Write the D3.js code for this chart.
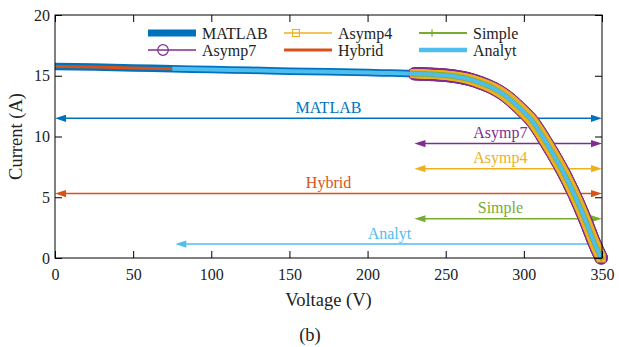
<!DOCTYPE html>
<html>
<head>
<meta charset="utf-8">
<script src="https://cdn.jsdelivr.net/npm/d3@7"></script>
<style>
  body { margin: 0; background: #fff; }
  svg text { font-family: 'Liberation Serif', 'Times New Roman', serif; }
</style>
</head>
<body>
<svg id="chart" width="619" height="347"></svg>
<script>
// I-V curve (reference MATLAB curve, all methods overlap it)
const voltage = [0, 25, 50, 75, 100, 125, 150, 175, 200, 215, 230, 240, 250, 260, 265, 270, 275,
  280, 285, 290, 295, 300, 305, 310, 315, 320, 325, 330, 335, 340, 345, 349.5]
const current = [15.77, 15.71, 15.64, 15.58, 15.51, 15.45, 15.38, 15.32, 15.26, 15.22, 15.17, 15.12,
  15.04, 14.86, 14.72, 14.52, 14.28, 14.0, 13.64, 13.18, 12.62, 12.0, 11.33, 10.4, 9.37, 8.28,
  7.13, 5.85, 4.45, 2.92, 1.28, 0]

// which part of the curve each method covers (V)
const methods = ['MATLAB', 'Asymp7', 'Asymp4', 'Simple', 'Hybrid', 'Analyt']
const curveFrom = [0, 230, 230, 230, 0, 75]
const curveTo = [349.5, 349.5, 349.5, 349.5, 75, 349.5]

// range arrows
const arrowNames = ['MATLAB', 'Asymp7', 'Asymp4', 'Hybrid', 'Simple', 'Analyt']
const arrowFrom = [0, 230, 230, 0, 230, 77]
const arrowTo = [350, 350, 350, 350, 350, 350]
const arrowLevel = [11.5, 9.42, 7.35, 5.3, 3.23, 1.15]
const arrowLabelAt = [175, 285, 285, 175, 285, 214]

const xTicks = [0, 50, 100, 150, 200, 250, 300, 350]
const yTicks = [0, 5, 10, 15, 20]

const colors = {
  MATLAB: '#0072BD', Asymp7: '#7E2F8E', Asymp4: '#EDB120',
  Hybrid: '#D95319', Simple: '#77AC30', Analyt: '#4DBEEE'
}

const box = {left: 55, right: 602, top: 15, bottom: 258}
const tick = 7

const svg = d3.select('#chart')
const x = d3.scaleLinear().domain([0, 350]).range([box.left, box.right])
const y = d3.scaleLinear().domain([0, 20]).range([box.bottom, box.top])

const points = voltage.map((v, i) => ({v, i: current[i]}))
const line = d3.line().x(d => x(d.v)).y(d => y(d.i)).curve(d3.curveMonotoneX)

function drawAxes () {
  const g = svg.append('g').attr('class', 'axes')
  g.append('g').attr('transform', `translate(0,${box.bottom})`)
    .call(d3.axisBottom(x).tickValues(xTicks).tickSize(-tick).tickSizeOuter(0).tickPadding(11))
  g.append('g').attr('transform', `translate(${box.left},0)`)
    .call(d3.axisLeft(y).tickValues(yTicks).tickSize(-tick).tickSizeOuter(0).tickPadding(5))
  g.append('g').attr('transform', `translate(0,${box.top})`)
    .call(d3.axisTop(x).tickValues(xTicks).tickSize(-tick).tickSizeOuter(0).tickFormat(''))
  g.append('g').attr('transform', `translate(${box.right},0)`)
    .call(d3.axisRight(y).tickValues(yTicks).tickSize(-tick).tickSizeOuter(0).tickFormat(''))
  g.selectAll('.domain').remove()
  g.selectAll('.tick line').attr('stroke', '#000').attr('stroke-width', 1)
  g.selectAll('text').attr('font-size', 16).attr('fill', '#222')
    .style('font-family', "'Liberation Serif', serif")
  g.append('rect')
    .attr('x', box.left).attr('y', box.top)
    .attr('width', box.right - box.left).attr('height', box.bottom - box.top)
    .attr('fill', 'none').attr('stroke', '#000').attr('stroke-width', 1)

  svg.append('text').attr('x', (box.left + box.right) / 2).attr('y', 306)
    .attr('text-anchor', 'middle').attr('font-size', 18.5).attr('fill', '#222')
    .text('Voltage (V)')
  svg.append('text')
    .attr('transform', `translate(22,${(box.top + box.bottom) / 2}) rotate(-90)`)
    .attr('text-anchor', 'middle').attr('font-size', 18.5).attr('fill', '#222')
    .text('Current (A)')
  svg.append('text').attr('x', 310).attr('y', 341)
    .attr('text-anchor', 'middle').attr('font-size', 18.5).attr('fill', '#222')
    .text('(b)')
}

function arrowHead (x0, y0, dir) {
  const len = 11, half = 3.6
  return `M${x0},${y0}L${x0 - dir * len},${y0 - half}L${x0 - dir * len},${y0 + half}Z`
}

function drawArrows () {
  const g = svg.append('g').attr('class', 'arrows')
  arrowNames.forEach((name, k) => {
    const c = colors[name]
    const x0 = x(arrowFrom[k]), x1 = x(arrowTo[k]), yy = y(arrowLevel[k])
    g.append('line')
      .attr('x1', x0 + 4).attr('x2', x1 - 4).attr('y1', yy).attr('y2', yy)
      .attr('stroke', c).attr('stroke-width', 1.5)
    g.append('path').attr('d', arrowHead(x1, yy, 1)).attr('fill', c)
    g.append('path').attr('d', arrowHead(x0, yy, -1)).attr('fill', c)
    g.append('text')
      .attr('x', x(arrowLabelAt[k])).attr('y', yy - 5.5)
      .attr('text-anchor', 'middle').attr('font-size', 16).attr('fill', c)
      .text(name)
  })
}

// dense markers along the drawn curve, like the markers of a finely sampled series
function markersAlong (g, segment, draw) {
  const path = g.append('path').attr('d', line(segment)).attr('fill', 'none').attr('stroke', 'none')
  const node = path.node()
  const total = node.getTotalLength()
  for (let s = 0; s <= total; s += 1.2) {
    const p = node.getPointAtLength(s)
    draw(p.x, p.y)
  }
  const p = node.getPointAtLength(total)
  draw(p.x, p.y)
}

function circleMark (g, c, r, w = 1.2) {
  return (px, py) => g.append('circle').attr('cx', px).attr('cy', py).attr('r', r)
    .attr('fill', 'none').attr('stroke', c).attr('stroke-width', w)
}
function squareMark (g, c, s) {
  return (px, py) => g.append('rect').attr('x', px - s / 2).attr('y', py - s / 2)
    .attr('width', s).attr('height', s)
    .attr('fill', 'none').attr('stroke', c).attr('stroke-width', 1.1)
}
function plusMark (g, c, s) {
  return (px, py) => g.append('path')
    .attr('d', `M${px - s / 2},${py}H${px + s / 2}M${px},${py - s / 2}V${py + s / 2}`)
    .attr('stroke', c).attr('stroke-width', 1.3).attr('fill', 'none')
}

function drawCurves () {
  const g = svg.append('g').attr('class', 'curves')
  methods.forEach((name, k) => {
    const seg = points.filter(d => d.v >= curveFrom[k] && d.v <= curveTo[k])
    const c = colors[name]
    if (name === 'MATLAB') {
      g.append('path').attr('d', line(seg)).attr('fill', 'none')
        .attr('stroke', c).attr('stroke-width', 7.5)
    } else if (name === 'Asymp7') {
      markersAlong(g, seg, circleMark(g, c, 6, 1.6))
    } else if (name === 'Asymp4') {
      markersAlong(g, seg, squareMark(g, c, 7.6))
    } else if (name === 'Simple') {
      g.append('path').attr('d', line(seg)).attr('fill', 'none')
        .attr('stroke', c).attr('stroke-width', 2)
      markersAlong(g, seg, plusMark(g, c, 5.6))
    } else if (name === 'Hybrid') {
      g.append('path').attr('d', line(seg)).attr('fill', 'none')
        .attr('stroke', c).attr('stroke-width', 3)
    } else {
      g.append('path').attr('d', line(seg)).attr('fill', 'none')
        .attr('stroke', c).attr('stroke-width', 4)
    }
  })
}

function drawLegend () {
  const g = svg.append('g').attr('class', 'legend')
  const cols = [148, 284, 419]
  const rows = [33, 50]
  const order = ['MATLAB', 'Asymp4', 'Simple', 'Asymp7', 'Hybrid', 'Analyt']
  const widths = {MATLAB: 7, Asymp7: 1.5, Asymp4: 1.5, Simple: 2, Hybrid: 3, Analyt: 4.5}
  order.forEach((name, k) => {
    const lx = cols[k % 3], ly = rows[Math.floor(k / 3)]
    const c = colors[name]
    g.append('line').attr('x1', lx).attr('x2', lx + 48).attr('y1', ly).attr('y2', ly)
      .attr('stroke', c).attr('stroke-width', widths[name])
    if (name === 'Asymp7') circleMark(g, c, 5.3)(lx + 15, ly)
    if (name === 'Asymp4') squareMark(g, c, 7)(lx + 12, ly)
    if (name === 'Simple') plusMark(g, c, 7)(lx + 13, ly)
    g.append('text').attr('x', lx + 54).attr('y', ly + 5.5)
      .attr('font-size', 16).attr('fill', '#222').text(name)
  })
}

drawArrows()
drawCurves()
drawAxes()
drawLegend()
</script>
</body>
</html>
